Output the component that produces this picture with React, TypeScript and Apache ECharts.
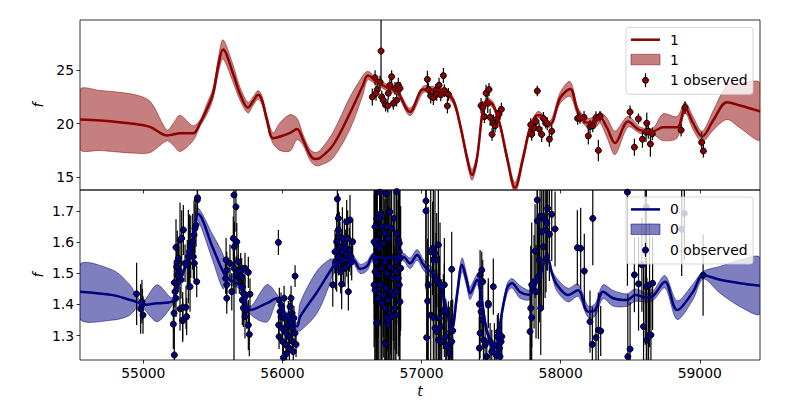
import React, { useEffect, useRef } from 'react';
import * as echarts from 'echarts';

const T_MIN = 54545;
const T_MAX = 59433;
const TOP_MIN = 13.8;
const TOP_MAX = 29.7;
const BOT_MIN = 1.222;
const BOT_MAX = 1.767;
const xTicks = [55000, 56000, 57000, 58000, 59000];
const topYTicks = [15, 20, 25];
const botYTicks = [1.3, 1.4, 1.5, 1.6, 1.7];

const RED = '#8b0000';
const NAVY = '#000080';
const FONT = 'DejaVu Sans';

// GP "1" (top panel): time, mean, half-width of band
const gp1T = [54545, 54689, 54926, 55048, 55170, 55214, 55264, 55357, 55408, 55458, 55501, 55540, 55573, 55645, 55695, 55753, 55789, 55825, 55853, 55889, 55932, 55983, 56055, 56105, 56148, 56198, 56234, 56270, 56364, 56486, 56579, 56615, 56680, 56750, 56824, 56917, 57011, 57061, 57155, 57227, 57277, 57327, 57363, 57399, 57442, 57471, 57514, 57564, 57615, 57672, 57730, 57780, 57830, 57852, 57924, 57996, 58068, 58125, 58190, 58262, 58283, 58334, 58391, 58485, 58571, 58664, 58736, 58837, 58894, 58952, 59017, 59096, 59196, 59290, 59433];
const gp1Mean = [20.4, 20.3, 20.0, 19.7, 18.9, 19.0, 19.1, 19.1, 20.05, 21.4, 22.8, 25.5, 26.95, 24.7, 22.8, 21.5, 22.1, 22.7, 22.2, 20.35, 18.65, 18.8, 19.15, 19.5, 18.5, 17.1, 16.7, 16.8, 18.0, 21.0, 23.6, 24.5, 23.9, 23.4, 23.0, 21.1, 23.2, 23.2, 23.0, 22.2, 19.9, 16.8, 15.2, 16.8, 21.4, 22.1, 21.75, 19.9, 16.8, 14.0, 16.8, 19.6, 20.8, 20.8, 19.95, 22.4, 23.25, 21.1, 20.1, 20.3, 20.6, 19.6, 18.2, 20.2, 19.4, 19.3, 19.67, 19.67, 21.5, 20.05, 18.8, 20.3, 22.0, 21.7, 21.15];
const gp1Sig = [2.8, 2.8, 2.75, 2.4, 0.5, 1.0, 1.7, 0.7, 0.3, 0.5, 0.5, 0.7, 0.9, 0.8, 0.6, 0.5, 0.4, 0.4, 0.4, 0.4, 0.5, 1.3, 1.7, 1.0, 0.5, 0.5, 0.6, 0.7, 1.2, 1.5, 0.9, 0.4, 0.3, 0.3, 0.3, 0.35, 0.3, 0.3, 0.3, 0.3, 0.35, 0.4, 0.5, 0.4, 0.35, 0.3, 0.3, 0.3, 0.4, 0.5, 0.4, 0.3, 0.3, 0.3, 0.3, 0.5, 0.7, 0.4, 0.4, 0.5, 0.5, 0.9, 1.1, 0.5, 0.3, 0.3, 1.25, 1.0, 0.5, 0.6, 0.5, 0.9, 1.6, 2.1, 2.65];

// observed "1": [time, value, error]
const obs1 = [
  [56646, 22.5, 0.8], [56666, 24.3, 0.7], [56682, 23.2, 0.6], [56709, 26.8, 3.0], [56702, 23.9, 0.6], [56673, 22.85, 0.7],
  [56714, 22.5, 0.6], [56725, 22.2, 0.6], [56742, 21.75, 0.6], [56761, 22.85, 0.6], [56773, 23.6, 0.6], [56785, 24.4, 0.6],
  [56809, 23.3, 0.6], [56833, 23.6, 0.7], [56821, 22.2, 0.6], [56797, 21.9, 0.6], [56757, 21.66, 0.6], [56845, 23.3, 0.6],
  [57042, 24.15, 0.8], [57049, 23.2, 0.6], [57066, 22.6, 0.7], [57085, 22.44, 0.7], [57102, 23.1, 0.6], [57109, 22.75, 0.6],
  [57126, 23.6, 0.7], [57138, 22.7, 0.6], [57157, 24.5, 0.7], [57164, 23.1, 0.6], [57193, 22.75, 0.6], [57186, 21.66, 0.7],
  [57428, 21.7, 0.7], [57440, 21.5, 0.6], [57464, 22.85, 0.8], [57485, 23.2, 0.6], [57476, 21.9, 0.9], [57452, 20.66, 0.6],
  [57493, 20.6, 0.8], [57516, 20.05, 0.8], [57507, 19.0, 0.6], [57545, 20.5, 0.8], [57557, 20.9, 0.6], [57574, 21.35, 0.6], [57529, 19.8, 0.6],
  [57832, 23.06, 0.5], [57785, 19.9, 0.6], [57792, 19.0, 0.6], [57809, 19.6, 0.7], [57823, 20.2, 0.5], [57845, 19.5, 0.6],
  [57864, 19.0, 0.7], [57876, 20.5, 0.6], [57893, 20.05, 0.5], [57904, 20.0, 0.6], [57919, 18.55, 0.7], [57936, 19.3, 0.6],
  [58122, 20.5, 0.6], [58139, 20.5, 0.5], [58168, 20.6, 0.6], [58199, 18.86, 0.8], [58211, 19.73, 0.6], [58231, 19.8, 0.6],
  [58254, 20.57, 0.6], [58283, 20.7, 0.5], [58271, 17.5, 1.0],
  [58499, 21.1, 0.6], [58530, 17.8, 0.8], [58559, 20.45, 0.5], [58588, 18.55, 0.8], [58619, 20.05, 1.0], [58614, 19.2, 0.9],
  [58630, 19.3, 0.7], [58645, 18.1, 1.2], [58659, 19.05, 0.6],
  [58866, 19.4, 0.6], [58894, 21.5, 0.6], [59014, 18.25, 1.0], [59026, 17.45, 0.6],
];

// GP "0" (bottom panel)
const gp0T = [54545, 54782, 54900, 54962, 54998, 55099, 55206, 55242, 55300, 55336, 55372, 55393, 55501, 55573, 55602, 55695, 55767, 55889, 55961, 56019, 56105, 56127, 56249, 56340, 56364, 56436, 56508, 56558, 56608, 56651, 56759, 56867, 56917, 56968, 57011, 57047, 57083, 57133, 57183, 57219, 57255, 57291, 57327, 57349, 57399, 57435, 57471, 57543, 57564, 57615, 57651, 57708, 57780, 57802, 57852, 57902, 57938, 57974, 58053, 58125, 58197, 58247, 58305, 58377, 58477, 58535, 58621, 58664, 58750, 58837, 58952, 59024, 59146, 59290, 59433];
const gp0Mean = [1.441, 1.43, 1.415, 1.407, 1.398, 1.404, 1.409, 1.45, 1.52, 1.57, 1.65, 1.69, 1.58, 1.505, 1.484, 1.46, 1.382, 1.404, 1.42, 1.37, 1.33, 1.36, 1.44, 1.505, 1.521, 1.54, 1.543, 1.514, 1.523, 1.553, 1.55, 1.553, 1.532, 1.559, 1.529, 1.511, 1.5, 1.463, 1.377, 1.324, 1.43, 1.527, 1.473, 1.436, 1.479, 1.409, 1.313, 1.238, 1.334, 1.452, 1.468, 1.44, 1.43, 1.452, 1.494, 1.559, 1.5, 1.463, 1.43, 1.446, 1.377, 1.382, 1.441, 1.42, 1.414, 1.43, 1.422, 1.427, 1.473, 1.382, 1.441, 1.494, 1.479, 1.468, 1.46];
const gp0Sig = [0.088, 0.08, 0.05, 0.015, 0.01, 0.059, 0.012, 0.012, 0.012, 0.012, 0.012, 0.02, 0.042, 0.055, 0.02, 0.012, 0.012, 0.06, 0.012, 0.01, 0.012, 0.045, 0.068, 0.04, 0.025, 0.01, 0.012, 0.015, 0.015, 0.012, 0.01, 0.012, 0.017, 0.017, 0.017, 0.017, 0.017, 0.02, 0.02, 0.02, 0.02, 0.022, 0.02, 0.02, 0.015, 0.015, 0.015, 0.015, 0.015, 0.015, 0.015, 0.02, 0.015, 0.01, 0.01, 0.01, 0.01, 0.02, 0.022, 0.02, 0.018, 0.02, 0.022, 0.025, 0.02, 0.02, 0.015, 0.015, 0.02, 0.03, 0.025, 0.012, 0.043, 0.075, 0.09];

// observed "0": [time, value, error]
const obs0 = [
  [54952, 1.434, 0.1], [54981, 1.386, 0.08], [54990, 1.409, 0.07], [54994, 1.4, 0.05], [54998, 1.366, 0.06],
  [55223, 1.238, 0.09], [55216, 1.337, 0.08], [55221, 1.372, 0.06], [55235, 1.583, 0.09], [55223, 1.47, 0.07], [55228, 1.441, 0.05],
  [55235, 1.42, 0.06], [55244, 1.537, 0.1], [55244, 1.494, 0.06], [55255, 1.51, 0.07], [55264, 1.607, 0.12], [55276, 1.612, 0.09],
  [55288, 1.639, 0.08], [55271, 1.479, 0.06], [55264, 1.386, 0.07], [55283, 1.348, 0.06], [55307, 1.391, 0.07], [55300, 1.532, 0.06],
  [55316, 1.527, 0.08], [55324, 1.553, 0.15], [55331, 1.569, 0.12], [55336, 1.457, 0.08], [55341, 1.585, 0.1], [55355, 1.601, 0.09],
  [55360, 1.553, 0.07], [55365, 1.623, 0.11], [55372, 1.644, 0.08], [55367, 1.532, 0.06], [55379, 1.655, 0.07], [55384, 1.473, 0.05],
  [55388, 1.735, 0.05], [55390, 1.742, 0.04], [55252, 1.548, 0.06], [55240, 1.521, 0.07], [55283, 1.39, 0.05], [55283, 1.35, 0.07], [55312, 1.361, 0.06],
  [55595, 1.543, 0.07], [55600, 1.51, 0.06], [55592, 1.484, 0.05], [55600, 1.463, 0.06], [55600, 1.42, 0.05], [55636, 1.441, 0.06],
  [55623, 1.532, 0.06], [55647, 1.612, 0.07], [55654, 1.585, 0.08], [55672, 1.601, 0.06], [55652, 1.751, 0.6], [55666, 1.713, 0.08],
  [55652, 1.516, 0.07], [55666, 1.494, 0.06], [55683, 1.537, 0.07], [55683, 1.51, 0.05], [55700, 1.505, 0.06], [55690, 1.484, 0.05],
  [55707, 1.489, 0.06], [55714, 1.457, 0.07], [55719, 1.436, 0.06], [55731, 1.516, 0.05], [55755, 1.503, 0.05], [55712, 1.414, 0.08],
  [55719, 1.388, 0.06], [55731, 1.361, 0.07], [55743, 1.382, 0.06], [55755, 1.334, 0.08], [55762, 1.304, 0.07], [55731, 1.425, 0.06], [55767, 1.433, 0.05],
  [55971, 1.599, 0.04], [56091, 1.491, 0.035],
  [55978, 1.414, 0.04], [55983, 1.377, 0.04], [55973, 1.334, 0.05], [55976, 1.297, 0.04], [55990, 1.361, 0.04], [55997, 1.324, 0.05],
  [56002, 1.281, 0.04], [56007, 1.23, 0.05], [56014, 1.356, 0.04], [56019, 1.313, 0.04], [56026, 1.27, 0.05], [56031, 1.243, 0.04],
  [56035, 1.334, 0.04], [56043, 1.361, 0.05], [56045, 1.297, 0.04], [56050, 1.26, 0.04], [56055, 1.393, 0.04], [56060, 1.343, 0.04],
  [56062, 1.42, 0.04], [56067, 1.324, 0.05], [56074, 1.281, 0.04], [56078, 1.249, 0.04], [56083, 1.356, 0.04], [56091, 1.308, 0.04],
  [56098, 1.272, 0.04], [55990, 1.398, 0.04], [56012, 1.42, 0.04], [56070, 1.372, 0.05], [56031, 1.308, 0.04],
  [56395, 1.738, 0.06], [56402, 1.676, 0.08], [56402, 1.639, 0.07], [56390, 1.601, 0.09], [56409, 1.617, 0.08], [56378, 1.569, 0.07],
  [56383, 1.537, 0.09], [56402, 1.553, 0.06], [56414, 1.585, 0.08], [56426, 1.569, 0.07], [56431, 1.612, 0.1], [56438, 1.543, 0.07],
  [56445, 1.596, 0.08], [56455, 1.58, 0.06], [56462, 1.559, 0.07], [56469, 1.612, 0.09], [56474, 1.527, 0.06], [56481, 1.575, 0.07],
  [56486, 1.671, 0.08], [56493, 1.553, 0.06], [56505, 1.601, 0.07], [56390, 1.521, 0.08], [56419, 1.505, 0.07], [56362, 1.463, 0.07],
  [56426, 1.465, 0.08], [56474, 1.441, 0.06], [56450, 1.516, 0.06], [56498, 1.537, 0.06], [56462, 1.665, 0.07],
  [56666, 1.649, 0.25], [56678, 1.676, 0.3], [56702, 1.676, 0.2], [56707, 1.692, 0.35], [56714, 1.649, 0.25], [56682, 1.607, 0.2],
  [56673, 1.591, 0.3], [56702, 1.58, 0.25], [56725, 1.596, 0.3], [56737, 1.628, 0.2], [56753, 1.649, 0.35], [56761, 1.612, 0.25],
  [56773, 1.697, 0.3], [56785, 1.644, 0.2], [56802, 1.676, 0.3], [56821, 1.628, 0.25], [56833, 1.607, 0.2], [56840, 1.569, 0.3],
  [56821, 1.537, 0.2], [56809, 1.505, 0.25], [56797, 1.484, 0.2], [56773, 1.521, 0.3], [56753, 1.5, 0.25], [56737, 1.537, 0.2],
  [56714, 1.516, 0.3], [56689, 1.494, 0.2], [56659, 1.463, 0.2], [56678, 1.441, 0.25], [56702, 1.463, 0.3], [56725, 1.43, 0.2],
  [56744, 1.452, 0.25], [56761, 1.414, 0.3], [56778, 1.441, 0.2], [56797, 1.43, 0.25], [56821, 1.441, 0.2], [56840, 1.463, 0.3],
  [56845, 1.409, 0.2], [56833, 1.484, 0.25], [56714, 1.404, 0.2], [56737, 1.388, 0.3], [56773, 1.372, 0.25], [56809, 1.388, 0.2],
  [56689, 1.42, 0.25], [56682, 1.345, 0.2], [56749, 1.356, 0.3], [56785, 1.361, 0.2], [56761, 1.345, 0.25], [56737, 1.276, 0.3],
  [56816, 1.366, 0.25], [56659, 1.601, 0.2], [56673, 1.537, 0.25], [56666, 1.505, 0.3], [56661, 1.553, 0.2], [56845, 1.548, 0.25],
  [56850, 1.516, 0.2], [56840, 1.596, 0.3], [56821, 1.762, 0.35], [56666, 1.446, 0.25], [56678, 1.34, 0.3], [56761, 1.334, 0.25],
  [56700, 1.76, 0.3], [56745, 1.755, 0.3],
  [57032, 1.732, 0.2], [57032, 1.7, 0.25], [57080, 1.58, 0.15], [57097, 1.564, 0.2], [57109, 1.543, 0.15], [57121, 1.591, 0.2],
  [57085, 1.543, 0.25], [57104, 1.479, 0.15], [57133, 1.463, 0.2], [57164, 1.463, 0.15], [57217, 1.513, 0.12], [57044, 1.411, 0.2],
  [57048, 1.463, 0.25], [57066, 1.366, 0.15], [57085, 1.358, 0.2], [57097, 1.324, 0.15], [57128, 1.356, 0.2], [57138, 1.329, 0.15],
  [57157, 1.377, 0.12], [57164, 1.382, 0.15], [57037, 1.294, 0.2], [57121, 1.286, 0.15], [57145, 1.281, 0.2], [57181, 1.27, 0.12],
  [57193, 1.26, 0.15], [57210, 1.313, 0.1], [57217, 1.281, 0.12], [57224, 1.316, 0.1], [57200, 1.243, 0.15], [57174, 1.297, 0.12],
  [57109, 1.313, 0.2], [57066, 1.569, 0.2],
  [57421, 1.495, 0.08], [57440, 1.473, 0.07], [57433, 1.51, 0.06], [57416, 1.401, 0.1], [57428, 1.377, 0.08], [57437, 1.35, 0.07],
  [57421, 1.308, 0.08], [57416, 1.26, 0.1], [57445, 1.286, 0.07], [57457, 1.27, 0.08], [57480, 1.404, 0.08], [57493, 1.281, 0.06],
  [57505, 1.249, 0.07], [57516, 1.457, 0.09], [57524, 1.27, 0.07], [57536, 1.238, 0.06], [57545, 1.297, 0.07], [57552, 1.313, 0.06],
  [57560, 1.26, 0.07], [57572, 1.281, 0.06], [57577, 1.297, 0.07], [57564, 1.233, 0.06], [57469, 1.233, 0.06], [57480, 1.398, 0.07],
  [57832, 1.735, 0.2], [57832, 1.668, 0.2], [57852, 1.682, 0.25], [57876, 1.682, 0.2], [57888, 1.671, 0.25], [57907, 1.708, 0.2],
  [57936, 1.689, 0.15], [57960, 1.642, 0.12], [57895, 1.639, 0.2], [57864, 1.633, 0.25], [57919, 1.625, 0.15], [57876, 1.585, 0.2],
  [57816, 1.571, 0.15], [57847, 1.543, 0.2], [57809, 1.473, 0.15], [57792, 1.463, 0.2], [57823, 1.441, 0.15], [57840, 1.489, 0.2],
  [57857, 1.388, 0.15], [57792, 1.358, 0.2], [57780, 1.313, 0.15], [57785, 1.388, 0.2], [57900, 1.66, 0.15],
  [58120, 1.582, 0.12], [58144, 1.58, 0.13], [58170, 1.507, 0.12], [58231, 1.676, 0.15],
  [58211, 1.345, 0.1], [58228, 1.272, 0.12], [58254, 1.294, 0.1], [58271, 1.318, 0.12], [58288, 1.315, 0.08],
  [58480, 1.76, 0.3], [58499, 1.257, 0.15], [58483, 1.233, 0.2], [58530, 1.495, 0.12], [58560, 1.466, 0.15], [58584, 1.527, 0.15],
  [58596, 1.329, 0.2], [58608, 1.571, 0.3], [58616, 1.457, 0.25], [58620, 1.286, 0.2], [58632, 1.3, 0.15], [58649, 1.302, 0.15],
  [58639, 1.463, 0.2], [58661, 1.468, 0.15], [58616, 1.713, 0.3],
  [58870, 1.641, 0.15], [58889, 1.692, 0.15],
  [59024, 1.494, 0.13],
];

const near = (v: number, list: number[], eps: number) => list.some((t) => Math.abs(t - v) < eps);

function bandSeries(ts: number[], means: number[], sigs: number[], fill: string, idx: number) {
  const upper = ts.map((t, i) => [t, means[i] + sigs[i]]);
  const lower = ts.map((t, i) => [t, means[i] - sigs[i]]);
  return {
    type: 'custom',
    xAxisIndex: idx,
    yAxisIndex: idx,
    clip: true,
    silent: true,
    data: [[ts[0], means[0]]],
    encode: { x: 0, y: 1 },
    renderItem: (_params: any, api: any) => {
      const pts = upper.map((p) => api.coord(p)).concat(lower.slice().reverse().map((p) => api.coord(p)));
      return {
        type: 'polygon',
        shape: { points: pts, smooth: 0.3 },
        style: { fill, stroke: fill, lineWidth: 1 },
      };
    },
  };
}

function lineSeries(ts: number[], means: number[], color: string, idx: number) {
  return {
    type: 'line',
    xAxisIndex: idx,
    yAxisIndex: idx,
    data: ts.map((t, i) => [t, means[i]]),
    symbol: 'none',
    showSymbol: false,
    smooth: 0.35,
    clip: true,
    silent: true,
    lineStyle: { color, width: 2.5 },
  };
}

function errSeries(obs: number[][], idx: number) {
  return {
    type: 'custom',
    xAxisIndex: idx,
    yAxisIndex: idx,
    clip: true,
    silent: true,
    data: obs,
    encode: { x: 0, y: 1 },
    renderItem: (_params: any, api: any) => {
      const t = api.value(0);
      const f = api.value(1);
      const e = api.value(2);
      const p1 = api.coord([t, f - e]);
      const p2 = api.coord([t, f + e]);
      return {
        type: 'line',
        shape: { x1: p1[0], y1: p1[1], x2: p2[0], y2: p2[1] },
        style: { stroke: '#000', lineWidth: 1.2 },
      };
    },
  };
}

function markerSeries(obs: number[][], color: string, idx: number) {
  return {
    type: 'scatter',
    xAxisIndex: idx,
    yAxisIndex: idx,
    clip: true,
    silent: true,
    data: obs.map((o) => [o[0], o[1]]),
    symbol: 'circle',
    symbolSize: 6,
    itemStyle: { color, borderColor: '#000', borderWidth: 1, opacity: 1 },
  };
}

function legend(y0: number, color: string, fill: string, label: string) {
  const txt = (y: number, s: string) => ({
    type: 'text',
    z: 102,
    x: 670,
    y,
    style: { text: s, fill: '#000', fontSize: 13.9, fontFamily: FONT, align: 'left', verticalAlign: 'middle' },
  });
  return [
    { type: 'rect', z: 100, shape: { x: 626, y: y0, width: 127, height: 67, r: 3 }, style: { fill: 'rgba(255,255,255,0.8)', stroke: 'rgba(204,204,204,0.8)', lineWidth: 1 } },
    { type: 'line', z: 101, shape: { x1: 631, y1: y0 + 12.4, x2: 660, y2: y0 + 12.4 }, style: { stroke: color, lineWidth: 2.5 } },
    { type: 'rect', z: 101, shape: { x: 631, y: y0 + 27, width: 29, height: 10.5 }, style: { fill, stroke: fill, lineWidth: 1 } },
    { type: 'line', z: 101, shape: { x1: 645.5, y1: y0 + 46, x2: 645.5, y2: y0 + 60 }, style: { stroke: '#000', lineWidth: 1.2 } },
    { type: 'circle', z: 102, shape: { cx: 645.5, cy: y0 + 53, r: 3 }, style: { fill: color, stroke: '#000', lineWidth: 1 } },
    txt(y0 + 12.4, label),
    txt(y0 + 32.4, label),
    txt(y0 + 53, label + ' observed'),
  ];
}

export default function App() {
  const ref = useRef<HTMLDivElement>(null);

  useEffect(() => {
    document.body.style.margin = '0';
    const chart = echarts.init(ref.current as HTMLDivElement, null, { renderer: 'svg' });
    const tickStyle = { show: true, length: 3.5, lineStyle: { color: '#000', width: 0.8 } };
    const labelStyle = { color: '#000', fontSize: 13.9, fontFamily: FONT };
    const option: any = {
      animation: false,
      textStyle: { fontFamily: FONT },
      grid: [
        { left: 80, top: 20, width: 680, height: 170, show: true, borderColor: '#000', borderWidth: 0.8, backgroundColor: 'transparent' },
        { left: 80, top: 190, width: 680, height: 170, show: true, borderColor: '#000', borderWidth: 0.8, backgroundColor: 'transparent' },
      ],
      xAxis: [0, 1].map((i) => ({
        type: 'value',
        gridIndex: i,
        min: T_MIN,
        max: T_MAX,
        minInterval: 1000,
        maxInterval: 1000,
        axisLine: { show: false },
        axisTick: { ...tickStyle, customValues: xTicks },
        splitLine: { show: false },
        axisLabel: {
          show: i === 1,
          ...labelStyle,
          margin: 6,
          customValues: xTicks,
          formatter: (v: number) => (near(v, xTicks, 1e-6) ? String(Math.round(v)) : ''),
        },
      })),
      yAxis: [
        {
          type: 'value',
          gridIndex: 0,
          min: TOP_MIN,
          max: TOP_MAX,
          minInterval: 5,
          maxInterval: 5,
          axisLine: { show: false },
          axisTick: { ...tickStyle, customValues: topYTicks },
          splitLine: { show: false },
          axisLabel: { ...labelStyle, margin: 6, customValues: topYTicks, formatter: (v: number) => (near(v, topYTicks, 1e-6) ? String(Math.round(v)) : '') },
        },
        {
          type: 'value',
          gridIndex: 1,
          min: BOT_MIN,
          max: BOT_MAX,
          minInterval: 0.1,
          maxInterval: 0.1,
          axisLine: { show: false },
          axisTick: { ...tickStyle, customValues: botYTicks },
          splitLine: { show: false },
          axisLabel: { ...labelStyle, margin: 6, customValues: botYTicks, formatter: (v: number) => (near(v, botYTicks, 1e-6) ? v.toFixed(1) : '') },
        },
      ],
      series: [
        lineSeries(gp1T, gp1Mean, RED, 0),
        bandSeries(gp1T, gp1Mean, gp1Sig, 'rgba(139,0,0,0.5)', 0),
        errSeries(obs1, 0),
        markerSeries(obs1, RED, 0),
        lineSeries(gp0T, gp0Mean, NAVY, 1),
        bandSeries(gp0T, gp0Mean, gp0Sig, 'rgba(0,0,128,0.5)', 1),
        errSeries(obs0, 1),
        markerSeries(obs0, NAVY, 1),
      ],
      graphic: [
        { type: 'text', z: 100, x: 38, y: 105, rotation: Math.PI / 2, style: { text: 'f', fill: '#000', fontSize: 13.9, fontStyle: 'italic', fontFamily: FONT, align: 'center', verticalAlign: 'middle' } },
        { type: 'text', z: 100, x: 38, y: 275, rotation: Math.PI / 2, style: { text: 'f', fill: '#000', fontSize: 13.9, fontStyle: 'italic', fontFamily: FONT, align: 'center', verticalAlign: 'middle' } },
        { type: 'text', z: 100, x: 420, y: 391, style: { text: 't', fill: '#000', fontSize: 13.9, fontStyle: 'italic', fontFamily: FONT, align: 'center', verticalAlign: 'middle' } },
        ...legend(27.3, RED, 'rgba(139,0,0,0.5)', '1'),
        ...legend(197, NAVY, 'rgba(0,0,128,0.5)', '0'),
      ],
    };
    chart.setOption(option);
    return () => chart.dispose();
  }, []);

  return <div ref={ref} style={{ position: 'absolute', left: 0, top: 0, width: 800, height: 400 }} />;
}
